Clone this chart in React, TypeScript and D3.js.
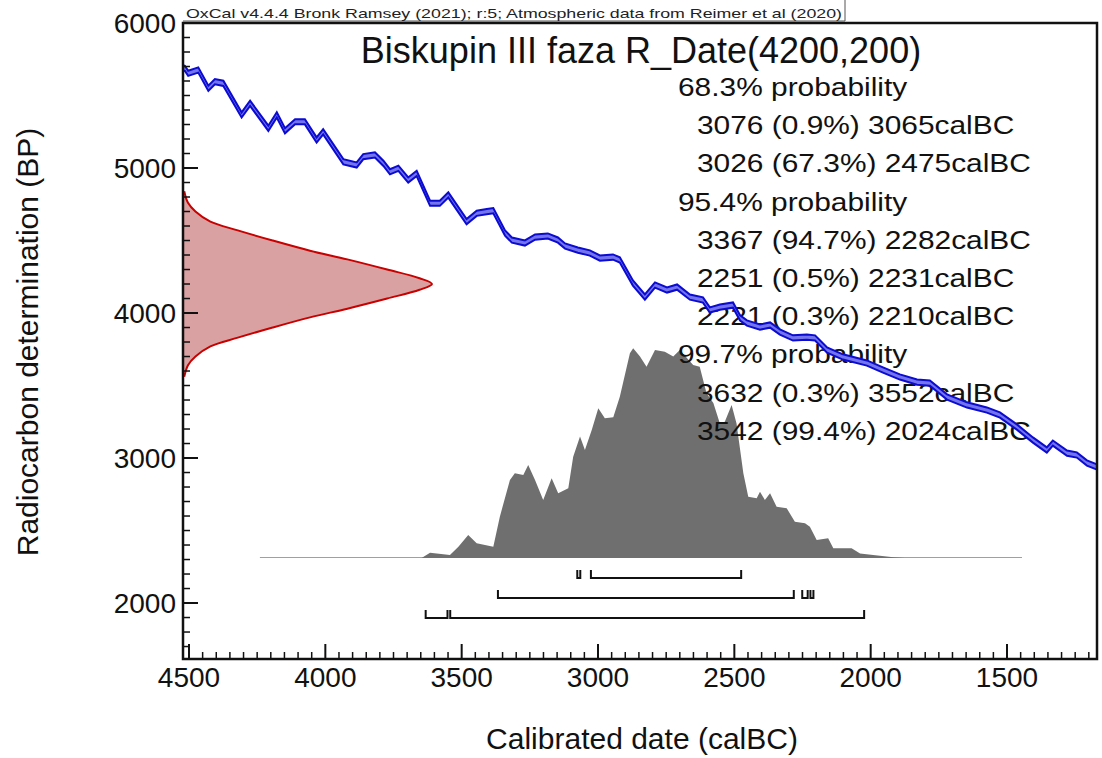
import * as d3 from "d3";
import React from "react";

// calibration curve (IntCal20): calBC / BP
const curveYears = [
  4522, 4515, 4503, 4466, 4429, 4405, 4374, 4307, 4276, 4209, 4178, 4148, 4111, 4075, 4032,
  4008, 3934, 3885, 3861, 3818, 3787, 3763, 3732, 3696, 3665, 3616, 3580, 3549, 3482, 3445,
  3408, 3384, 3341, 3316, 3268, 3231, 3184, 3147, 3121, 3074, 3030, 2993, 2945, 2920, 2872,
  2828, 2791, 2747, 2710, 2663, 2615, 2590, 2553, 2505, 2479, 2454, 2406, 2369, 2333, 2285,
  2234, 2204, 2160, 2102, 2014, 1955, 1893, 1830, 1783, 1720, 1647, 1574, 1526, 1464, 1405,
  1354, 1332, 1280, 1244, 1207, 1170,
];
const curveBP = [
  5690, 5687, 5653, 5676, 5550, 5595, 5584, 5366, 5446, 5274, 5366, 5257, 5319, 5319, 5193,
  5250, 5043, 5021, 5078, 5090, 5032, 4974, 4998, 4917, 4963, 4757, 4757, 4814, 4630, 4688,
  4699, 4706, 4552, 4503, 4483, 4524, 4531, 4503, 4462, 4434, 4414, 4379, 4386, 4366, 4207,
  4110, 4193, 4159, 4179, 4110, 4090, 4021, 4041, 4055, 3966, 3931, 3903, 3917, 3869, 3828,
  3834, 3828, 3745, 3697, 3655, 3607, 3559, 3524, 3517, 3421, 3366, 3331, 3297, 3214, 3124,
  3055, 3103, 3034, 3021, 2966, 2938,
];
const curveSigma = 18;

// R_Date(4200,200) likelihood, relative height
const likeBP = [3560, 3640, 3700, 3770, 3830, 3900, 3970, 4030, 4100, 4160, 4200, 4240, 4300, 4370, 4430, 4500, 4570, 4630, 4700, 4760, 4840];
const likeDens = [0.005, 0.02, 0.05, 0.11, 0.22, 0.36, 0.51, 0.66, 0.82, 0.95, 1, 0.95, 0.82, 0.66, 0.51, 0.36, 0.22, 0.11, 0.05, 0.02, 0.005];

// calibrated posterior, relative height
const postYears = [
  3647, 3616, 3543, 3512, 3476, 3445, 3384, 3360, 3323, 3305, 3274, 3256, 3231, 3201, 3170,
  3146, 3109, 3091, 3066, 3048, 3023, 2999, 2975, 2944, 2920, 2883, 2871, 2846, 2822, 2791,
  2755, 2724, 2700, 2651, 2627, 2602, 2577, 2553, 2535, 2510, 2492, 2467, 2449, 2418, 2406,
  2388, 2369, 2345, 2308, 2278, 2241, 2223, 2198, 2156, 2137, 2070, 2039, 1991, 1917, 1875,
];
const postDens = [
  0, 0.025, 0.014, 0.054, 0.11, 0.07, 0.054, 0.197, 0.371, 0.403, 0.395, 0.443, 0.371, 0.276, 0.38,
  0.308, 0.332, 0.482, 0.578, 0.514, 0.61, 0.713, 0.665, 0.67, 0.768, 0.975, 0.999, 0.959, 0.911, 0.99,
  0.982, 0.959, 0.99, 0.919, 0.911, 0.784, 0.738, 0.641, 0.649, 0.729, 0.641, 0.403, 0.292, 0.284, 0.316,
  0.276, 0.308, 0.244, 0.237, 0.173, 0.165, 0.149, 0.086, 0.094, 0.046, 0.046, 0.022, 0.014, 0.003, 0,
];
const postSpan = [4240, 1445];

// hpd ranges, calBC
const range68 = [[3076, 3065], [3026, 2475]];
const range95 = [[3367, 2282], [2251, 2231], [2221, 2210]];
const range99 = [[3632, 3552], [3542, 2024]];

const xTicks = [4500, 4000, 3500, 3000, 2500, 2000, 1500];
const yTicks = [2000, 3000, 4000, 5000, 6000];

const header = "OxCal v4.4.4 Bronk Ramsey (2021); r:5; Atmospheric data from Reimer et al (2020)";
const title = "Biskupin III faza R_Date(4200,200)";
const probLines = [
  "68.3% probability",
  "3076 (0.9%) 3065calBC",
  "3026 (67.3%) 2475calBC",
  "95.4% probability",
  "3367 (94.7%) 2282calBC",
  "2251 (0.5%) 2231calBC",
  "2221 (0.3%) 2210calBC",
  "99.7% probability",
  "3632 (0.3%) 3552calBC",
  "3542 (99.4%) 2024calBC",
];

const W = 1102;
const H = 758;
const L = 183, T = 23, R = 1097, B = 659;
const FONT = "'Liberation Sans', Arial, sans-serif";

export default function App() {
  const x = d3.scaleLinear().domain([4522, 1170]).range([L, R]);
  const y = d3.scaleLinear().domain([1614, 6000]).range([B, T]);
  const likeX = d3.scaleLinear().domain([0, 1]).range([L, 432]);
  const postY = d3.scaleLinear().domain([0, 1]).range([558, 348]);

  const idx = d3.range(curveYears.length);
  const band = d3
    .area<number>()
    .x((i) => x(curveYears[i]))
    .y0((i) => y(curveBP[i] - curveSigma))
    .y1((i) => y(curveBP[i] + curveSigma));
  const upper = d3
    .line<number>()
    .x((i) => x(curveYears[i]))
    .y((i) => y(curveBP[i] + curveSigma));
  const lower = d3
    .line<number>()
    .x((i) => x(curveYears[i]))
    .y((i) => y(curveBP[i] - curveSigma));

  const like = d3
    .area<number>()
    .y((i) => y(likeBP[i]))
    .x0(likeX(0))
    .x1((i) => likeX(likeDens[i]))
    .curve(d3.curveCatmullRom);
  const likeLine = d3
    .line<number>()
    .y((i) => y(likeBP[i]))
    .x((i) => likeX(likeDens[i]))
    .curve(d3.curveCatmullRom);
  const likeIdx = d3.range(likeBP.length);

  const post = d3
    .area<number>()
    .x((i) => x(postYears[i]))
    .y0(postY(0))
    .y1((i) => postY(postDens[i]));
  const postIdx = d3.range(postYears.length);

  const bracket = (r: number[], row: number) => {
    const x0 = x(r[0]);
    const x1 = x(r[1]);
    return `M${x0},${row - 8}V${row}H${x1}V${row - 8}`;
  };

  const xMinor = d3.range(1200, 4521, 50).filter((v) => v % 500 !== 0);
  const yMinor = d3.range(1700, 6000, 100).filter((v) => v % 1000 !== 0);

  return (
    <svg
      width={W}
      height={H}
      viewBox={`0 0 ${W} ${H}`}
      style={{ position: "absolute", left: 0, top: 0, background: "#fff" }}
      fontFamily={FONT}
    >
      <rect x={0} y={0} width={W} height={H} fill="#fff" />

      {/* header */}
      <path d={`M${L},21H845V0`} fill="none" stroke="#555" strokeWidth={1} />
      <text x={186} y={18} fontSize={13} fill="#222" textLength={656} lengthAdjust="spacingAndGlyphs">
        {header}
      </text>

      {/* likelihood */}
      <path d={like(likeIdx) ?? ""} fill="#d9a1a1" />
      <path d={likeLine(likeIdx) ?? ""} fill="none" stroke="#c80000" strokeWidth={2} />

      {/* posterior */}
      <line x1={x(postSpan[0])} x2={x(postSpan[1])} y1={557.5} y2={557.5} stroke="#a0a0a0" strokeWidth={1} />
      <path d={post(postIdx) ?? ""} fill="#6f6f6f" />

      {/* ranges */}
      <g fill="none" stroke="#111" strokeWidth={2}>
        {range68.map((r, i) => <path key={"a" + i} d={bracket(r, 578)} />)}
        {range95.map((r, i) => <path key={"b" + i} d={bracket(r, 598)} />)}
        {range99.map((r, i) => <path key={"c" + i} d={bracket(r, 618)} />)}
      </g>

      {/* title and probability text */}
      <text x={641} y={63} fontSize={36} textAnchor="middle" fill="#111">
        {title}
      </text>
      {probLines.map((s, i) => {
        const x0 = s.includes("probability") ? 678 : 697;
        const by = 96 + i * 38.2;
        return (
          <text
            key={s}
            x={0}
            y={0}
            fontSize={26}
            fill="#111"
            transform={`translate(${x0},${by}) scale(1.15,1)`}
          >
            {s}
          </text>
        );
      })}

      {/* calibration curve */}
      <path d={band(idx) ?? ""} fill="#7474ec" />
      <path d={upper(idx) ?? ""} fill="none" stroke="#0b0bd2" strokeWidth={2} />
      <path d={lower(idx) ?? ""} fill="none" stroke="#0b0bd2" strokeWidth={2} />

      {/* axes */}
      <g stroke="#111">
        {xMinor.map((v) => (
          <line key={"xm" + v} x1={x(v)} x2={x(v)} y1={B} y2={B - 7} strokeWidth={1.5} />
        ))}
        {xTicks.map((v) => (
          <line key={"xM" + v} x1={x(v)} x2={x(v)} y1={B} y2={B - 15} strokeWidth={2} />
        ))}
        {yMinor.map((v) => (
          <line key={"ym" + v} x1={L} x2={L + 7} y1={y(v)} y2={y(v)} strokeWidth={1.5} />
        ))}
        {yTicks.map((v) => (
          <line key={"yM" + v} x1={L} x2={L + 15} y1={y(v)} y2={y(v)} strokeWidth={2} />
        ))}
      </g>
      <rect x={L} y={T} width={R - L} height={B - T} fill="none" stroke="#111" strokeWidth={2.5} />

      {xTicks.map((v) => (
        <text key={"xl" + v} x={x(v)} y={687} fontSize={28} textAnchor="middle" fill="#111">
          {v}
        </text>
      ))}
      {yTicks.map((v) => (
        <text key={"yl" + v} x={176} y={y(v)} dy="0.36em" fontSize={28} textAnchor="end" fill="#111">
          {v}
        </text>
      ))}

      <text x={642} y={749} fontSize={30} textAnchor="middle" fill="#111">
        Calibrated date (calBC)
      </text>
      <text
        transform="translate(38,342) rotate(-90)"
        fontSize={30}
        textAnchor="middle"
        fill="#111"
      >
        Radiocarbon determination (BP)
      </text>
    </svg>
  );
}
